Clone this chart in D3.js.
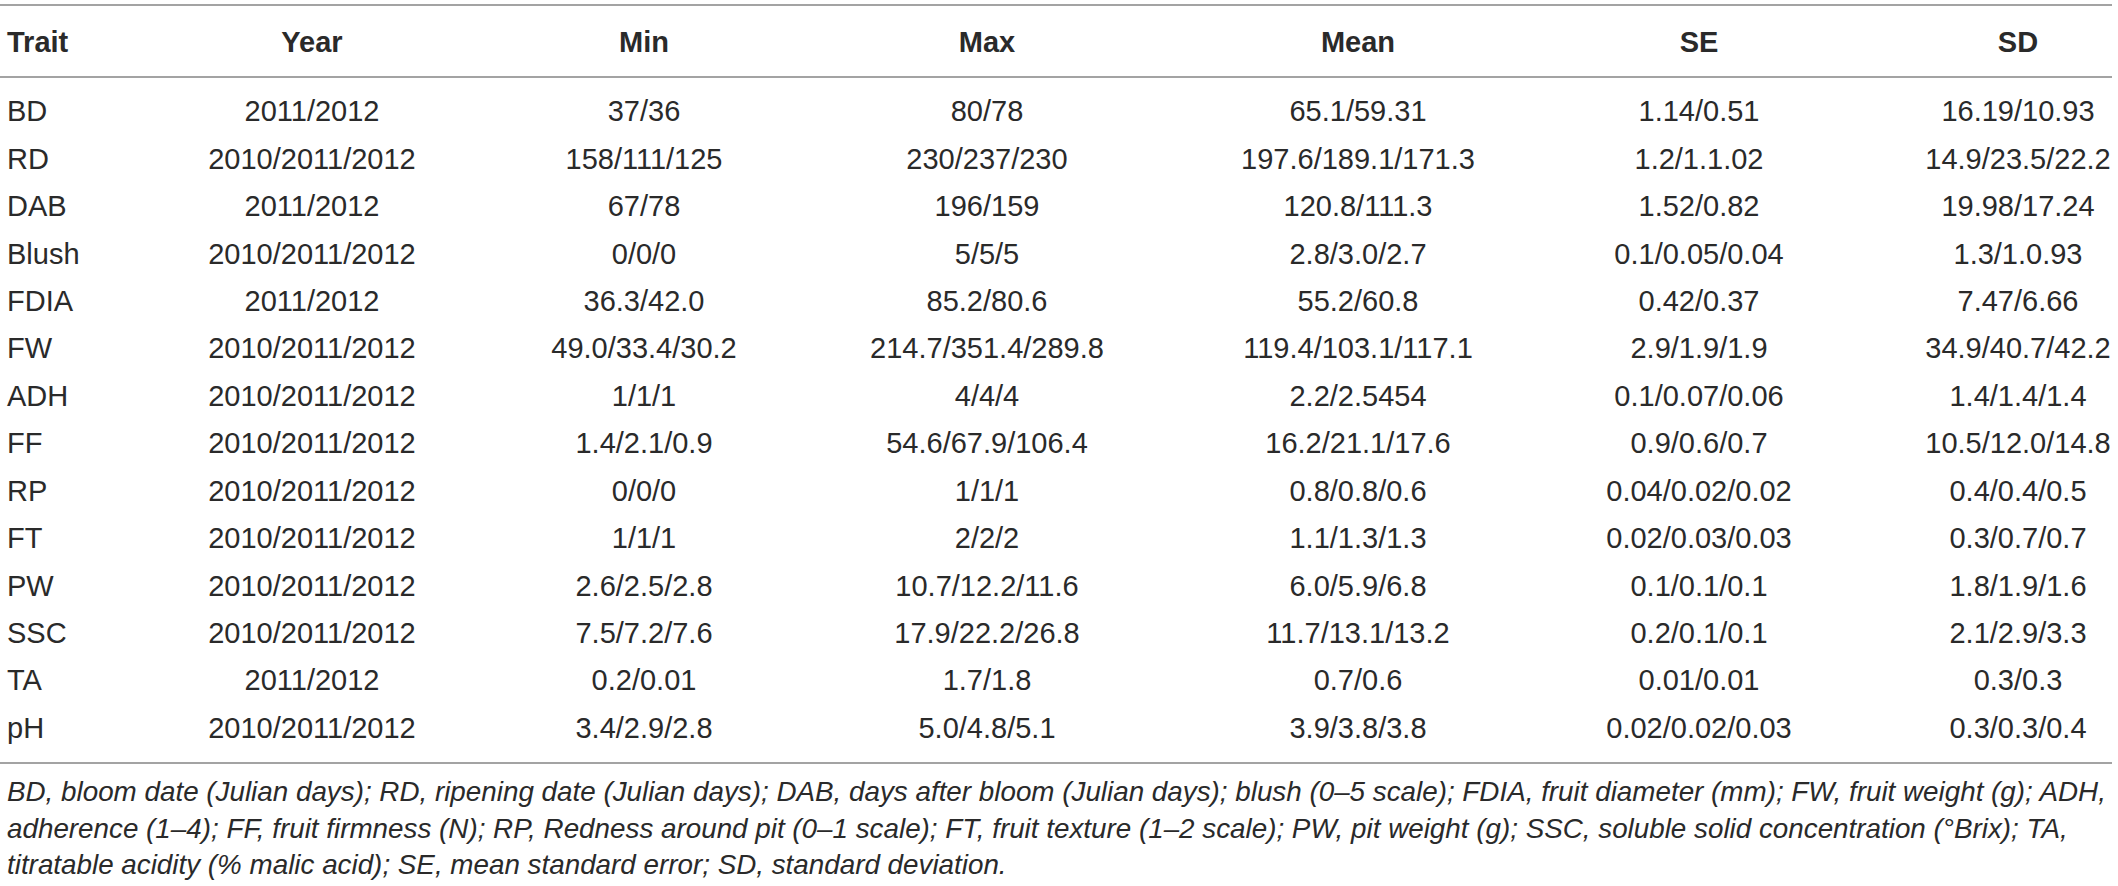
<!DOCTYPE html>
<html>
  <head>
    <meta charset="UTF-8">
    <title>Trait summary table</title>
    <script src="https://cdn.jsdelivr.net/npm/d3@7"></script>
    <style>
      body { margin: 0; background: #fff; }
      text { font-family: "Liberation Sans", Arial, sans-serif; fill: #2a2a2a; }
    </style>
  </head>
  <body>
    <svg width="2118" height="886"></svg>
    <script>
      var headers = ["Trait", "Year", "Min", "Max", "Mean", "SE", "SD"];
      var traits = ["BD", "RD", "DAB", "Blush", "FDIA", "FW", "ADH", "FF", "RP", "FT", "PW", "SSC", "TA", "pH"];
      var years = ["2011/2012", "2010/2011/2012", "2011/2012", "2010/2011/2012", "2011/2012", "2010/2011/2012",
        "2010/2011/2012", "2010/2011/2012", "2010/2011/2012", "2010/2011/2012", "2010/2011/2012",
        "2010/2011/2012", "2011/2012", "2010/2011/2012"];
      var mins = ["37/36", "158/111/125", "67/78", "0/0/0", "36.3/42.0", "49.0/33.4/30.2", "1/1/1",
        "1.4/2.1/0.9", "0/0/0", "1/1/1", "2.6/2.5/2.8", "7.5/7.2/7.6", "0.2/0.01", "3.4/2.9/2.8"];
      var maxs = ["80/78", "230/237/230", "196/159", "5/5/5", "85.2/80.6", "214.7/351.4/289.8", "4/4/4",
        "54.6/67.9/106.4", "1/1/1", "2/2/2", "10.7/12.2/11.6", "17.9/22.2/26.8", "1.7/1.8", "5.0/4.8/5.1"];
      var means = ["65.1/59.31", "197.6/189.1/171.3", "120.8/111.3", "2.8/3.0/2.7", "55.2/60.8",
        "119.4/103.1/117.1", "2.2/2.5454", "16.2/21.1/17.6", "0.8/0.8/0.6", "1.1/1.3/1.3", "6.0/5.9/6.8",
        "11.7/13.1/13.2", "0.7/0.6", "3.9/3.8/3.8"];
      var ses = ["1.14/0.51", "1.2/1.1.02", "1.52/0.82", "0.1/0.05/0.04", "0.42/0.37", "2.9/1.9/1.9",
        "0.1/0.07/0.06", "0.9/0.6/0.7", "0.04/0.02/0.02", "0.02/0.03/0.03", "0.1/0.1/0.1", "0.2/0.1/0.1",
        "0.01/0.01", "0.02/0.02/0.03"];
      var sds = ["16.19/10.93", "14.9/23.5/22.2", "19.98/17.24", "1.3/1.0.93", "7.47/6.66", "34.9/40.7/42.2",
        "1.4/1.4/1.4", "10.5/12.0/14.8", "0.4/0.4/0.5", "0.3/0.7/0.7", "1.8/1.9/1.6", "2.1/2.9/3.3",
        "0.3/0.3", "0.3/0.3/0.4"];
      var footnote = [
        "BD, bloom date (Julian days); RD, ripening date (Julian days); DAB, days after bloom (Julian days); blush (0\u20135 scale); FDIA, fruit diameter (mm); FW, fruit weight (g); ADH,",
        "adherence (1\u20134); FF, fruit firmness (N); RP, Redness around pit (0\u20131 scale); FT, fruit texture (1\u20132 scale); PW, pit weight (g); SSC, soluble solid concentration (\u00b0Brix); TA,",
        "titratable acidity (% malic acid); SE, mean standard error; SD, standard deviation."
      ];

      var columns = [traits, years, mins, maxs, means, ses, sds];

      // layout
      var svg = d3.select("svg");
      var colCenter = [7, 312, 644, 987, 1358, 1699, 2018];
      var fontSize = 29;

      // one band per trait row
      var y = d3.scaleBand()
        .domain(traits)
        .range([87, 751]);

      var ruleColor = "#a3a3a3";
      function rule(yy) {
        svg.append("line")
          .attr("x1", 0).attr("x2", 2112)
          .attr("y1", yy).attr("y2", yy)
          .attr("stroke", ruleColor)
          .attr("stroke-width", 2);
      }
      rule(5);
      rule(77);
      rule(763);

      // header
      svg.append("g")
        .selectAll("text")
        .data(headers)
        .enter()
        .append("text")
        .attr("x", function(d, i) { return colCenter[i]; })
        .attr("y", 52)
        .attr("text-anchor", function(d, i) { return i == 0 ? "start" : "middle"; })
        .attr("font-size", fontSize)
        .attr("font-weight", "bold")
        .text(function(d) { return d; });

      // body cells
      var cols = svg.append("g")
        .selectAll("g")
        .data(columns)
        .enter()
        .append("g");

      cols.selectAll("text")
        .data(function(col, ci) { return col.map(function(v, ri) { return {v: v, ci: ci, trait: traits[ri]}; }); })
        .enter()
        .append("text")
        .attr("x", function(d) { return colCenter[d.ci]; })
        .attr("y", function(d) { return y(d.trait) + y.bandwidth() / 2 + 10.5; })
        .attr("text-anchor", function(d) { return d.ci == 0 ? "start" : "middle"; })
        .attr("font-size", fontSize)
        .text(function(d) { return d.v; });

      // footnote
      svg.append("g")
        .selectAll("text")
        .data(footnote)
        .enter()
        .append("text")
        .attr("x", 7)
        .attr("y", function(d, i) { return 801 + i * 36.5; })
        .attr("font-size", 27.8)
        .attr("font-style", "italic")
        .text(function(d) { return d; });
    </script>
  </body>
</html>
